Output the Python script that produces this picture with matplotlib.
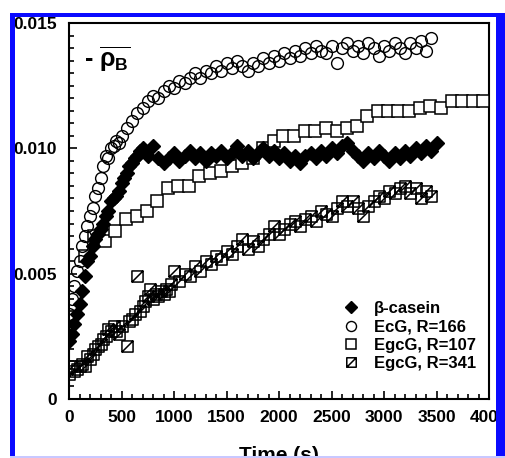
import matplotlib
matplotlib.use("Agg")
import matplotlib.pyplot as plt
from matplotlib.path import Path
from matplotlib.patches import Rectangle
from matplotlib.ticker import MultipleLocator, FixedFormatter, FixedLocator

plt.rcParams['font.family'] = ['Liberation Sans', 'DejaVu Sans']
plt.rcParams['mathtext.fontset'] = 'custom'
plt.rcParams['mathtext.rm'] = 'Liberation Sans:bold'
plt.rcParams['mathtext.it'] = 'Liberation Sans:bold'
plt.rcParams['mathtext.bf'] = 'Liberation Sans:bold'

# beta-casein (filled diamonds)
beta_t = [0, 25, 50, 75, 100, 125, 150, 175, 200, 225, 250, 275, 300, 325, 350,
          375, 400, 425, 450, 475, 500, 525, 550, 575, 600, 625, 650, 675, 700,
          750, 800, 850, 900, 950, 1000, 1050, 1100, 1150, 1200, 1250, 1300, 1350,
          1400, 1450, 1500, 1550, 1600, 1650, 1700, 1750, 1800, 1850, 1900, 1950,
          2000, 2050, 2100, 2150, 2200, 2250, 2300, 2350, 2400, 2450, 2500, 2550,
          2600, 2650, 2700, 2750, 2800, 2850, 2900, 2950, 3000, 3050, 3100, 3150,
          3200, 3250, 3300, 3350, 3400, 3450, 3500]
beta_v = [0.0023, 0.0026, 0.0030, 0.0034, 0.0038, 0.0043, 0.0049, 0.0055, 0.0057,
          0.0061, 0.0064, 0.0066, 0.0068, 0.0070, 0.0073, 0.0075, 0.0079, 0.0080,
          0.0081, 0.0083, 0.0086, 0.0088, 0.0090, 0.0093, 0.0094, 0.0096, 0.0097,
          0.0099, 0.0100,
          0.0097, 0.0101, 0.0096, 0.0094, 0.0096, 0.0098, 0.0095, 0.0097, 0.0099,
          0.0096, 0.0098, 0.0095, 0.0098, 0.0097, 0.0099, 0.0096, 0.0098, 0.0101,
          0.0097, 0.0099, 0.0096, 0.0098, 0.0100, 0.0097, 0.0099, 0.0096, 0.0098,
          0.0095, 0.0097, 0.0094, 0.0097, 0.0098, 0.0096, 0.0099, 0.0097, 0.0100,
          0.0098, 0.0101, 0.0102, 0.0099, 0.0097, 0.0095, 0.0098, 0.0096, 0.0099,
          0.0097, 0.0095, 0.0098, 0.0096, 0.0099, 0.0097, 0.0100, 0.0098, 0.0101,
          0.0099, 0.0102]

# EcG, R=166 (open circles)
ecg_t = [0, 25, 50, 75, 100, 125, 150, 175, 200, 225, 250, 275, 300, 325, 350,
         375, 400, 425, 450, 475, 500, 550, 600, 650, 700, 750, 800, 850, 900, 950,
         1000, 1050, 1100, 1150, 1200, 1250, 1300, 1350, 1400, 1450, 1500, 1550,
         1600, 1650, 1700, 1750, 1800, 1850, 1900, 1950, 2000, 2050, 2100, 2150,
         2200, 2250, 2300, 2350, 2400, 2450, 2500, 2550, 2600, 2650, 2700, 2750,
         2800, 2850, 2900, 2950, 3000, 3050, 3100, 3150, 3200, 3250, 3300, 3350,
         3400, 3450]
ecg_v = [0.0034, 0.0040, 0.0045, 0.0051, 0.0055, 0.0061, 0.0065, 0.0069, 0.0073,
         0.0076, 0.0081, 0.0084, 0.0088, 0.0093, 0.0097, 0.0096, 0.0100, 0.0101,
         0.0103, 0.0102, 0.0105, 0.0108, 0.0111, 0.0114, 0.0116, 0.0119, 0.0121,
         0.0120, 0.0123, 0.0125, 0.0124, 0.0127, 0.0126, 0.0128, 0.0130, 0.0128,
         0.0131, 0.0130, 0.0133, 0.0131, 0.0134, 0.0132, 0.0135, 0.0133, 0.0131,
         0.0134, 0.0133, 0.0136, 0.0134, 0.0137, 0.0135, 0.0138, 0.0136, 0.0139,
         0.0137, 0.0140, 0.0138, 0.0141, 0.0139, 0.0138, 0.0141, 0.0134, 0.0140,
         0.0142, 0.0139, 0.0141, 0.0138, 0.0142, 0.0140, 0.0137, 0.0141, 0.0139,
         0.0142, 0.0140, 0.0138, 0.0142, 0.0140, 0.0143, 0.0139, 0.0144]

# EgcG, R=107 (open squares)
e107_t = [150, 240, 340, 440, 540, 645, 745, 840, 940, 1040, 1140, 1240, 1345,
          1445, 1550, 1645, 1750, 1850, 1950, 2040, 2140, 2245, 2345, 2445, 2550,
          2645, 2740, 2835, 2945, 3040, 3135, 3240, 3345, 3440, 3540, 3645, 3740,
          3845, 3945]
e107_v = [0.0057, 0.0065, 0.0063, 0.0067, 0.0072, 0.0073, 0.0075, 0.0079, 0.0084,
          0.0085, 0.0085, 0.0089, 0.0090, 0.0091, 0.0093, 0.0094, 0.0096, 0.0100,
          0.0103, 0.0105, 0.0105, 0.0107, 0.0107, 0.0108, 0.0107, 0.0108, 0.0109,
          0.0113, 0.0115, 0.0115, 0.0115, 0.0115, 0.0116, 0.0117, 0.0116, 0.0119,
          0.0119, 0.0119, 0.0119]

# EgcG, R=341 (squares with diagonal)
e341_t = [0, 25, 50, 75, 100, 125, 150, 175, 200, 225, 250, 275, 300, 325, 350,
          375, 400, 425, 450, 475, 500, 550, 575, 600, 625, 650, 675, 700, 725,
          750, 775, 800, 825, 850, 875, 900, 925, 950, 975, 1000, 1050, 1100,
          1150, 1200, 1250, 1300, 1350, 1400, 1450, 1500, 1550, 1600, 1650, 1700,
          1750, 1800, 1850, 1900, 1950, 2000, 2050, 2100, 2150, 2200, 2250, 2300,
          2350, 2400, 2450, 2500, 2550, 2600, 2650, 2700, 2750, 2800, 2850, 2900,
          2950, 3000, 3050, 3100, 3150, 3200, 3250, 3300, 3350, 3400, 3450]
e341_v = [0.0010, 0.0013, 0.0011, 0.0012, 0.0013, 0.0014, 0.0013, 0.0017, 0.0016,
          0.0018, 0.0020, 0.0021, 0.0022, 0.0024, 0.0025, 0.0028, 0.0027, 0.0029,
          0.0027, 0.0026, 0.0029, 0.0021, 0.0031, 0.0032, 0.0034, 0.0049, 0.0035,
          0.0037, 0.0039, 0.0041, 0.0044, 0.0040, 0.0042, 0.0041, 0.0043, 0.0042,
          0.0044, 0.0043, 0.0046, 0.0051, 0.0047, 0.0050, 0.0049, 0.0053, 0.0051,
          0.0055, 0.0054, 0.0057, 0.0056, 0.0059, 0.0058, 0.0061, 0.0064, 0.0060,
          0.0063, 0.0061, 0.0064, 0.0066, 0.0069, 0.0066, 0.0068, 0.0070, 0.0071,
          0.0069, 0.0072, 0.0073, 0.0071, 0.0075, 0.0074, 0.0073, 0.0076, 0.0079,
          0.0077, 0.0079, 0.0076, 0.0073, 0.0077, 0.0079, 0.0081, 0.0080, 0.0083,
          0.0082, 0.0084, 0.0085, 0.0082, 0.0084, 0.0080, 0.0083, 0.0081]

labels = ['\u03b2-casein', 'EcG, R=166', 'EgcG, R=107', 'EgcG, R=341']
ytick_vals = [0, 0.005, 0.010, 0.015]
ytick_labels = ['0', '0.005', '0.010', '0.015']

W, H = 505, 458
fig = plt.figure(figsize=(W / 100, H / 100), dpi=100)
ax = fig.add_axes([69 / W, 1 - 399 / H, 420 / W, 376 / H])

# square with a diagonal from lower left to upper right
hatch_sq = Path([(-0.5, -0.5), (0.5, -0.5), (0.5, 0.5), (-0.5, 0.5), (-0.5, -0.5),
                 (-0.5, -0.5), (0.5, 0.5)],
                [Path.MOVETO, Path.LINETO, Path.LINETO, Path.LINETO, Path.CLOSEPOLY,
                 Path.MOVETO, Path.LINETO])

ax.plot(e341_t, e341_v, ls='none', marker=hatch_sq, ms=8, mfc='none', mec='black',
        mew=1.1, label=labels[3], zorder=2)
ax.plot(e107_t, e107_v, ls='none', marker='s', ms=8, mfc='white', mec='black',
        mew=1.1, label=labels[2], zorder=3)
ax.plot(ecg_t, ecg_v, ls='none', marker='o', ms=8.5, mfc='none', mec='black',
        mew=1.0, label=labels[1], zorder=4)
ax.plot(beta_t, beta_v, ls='none', marker='D', ms=7.5, mfc='black', mec='black',
        label=labels[0], zorder=5)

ax.set_xlim(0, 4000)
ax.set_ylim(0, 0.015)
ax.xaxis.set_major_locator(MultipleLocator(500))
ax.xaxis.set_minor_locator(MultipleLocator(100))
ax.yaxis.set_major_locator(FixedLocator(ytick_vals))
ax.yaxis.set_major_formatter(FixedFormatter(ytick_labels))
ax.yaxis.set_minor_locator(MultipleLocator(0.0005))
ax.tick_params(which='both', direction='in', top=False, right=False, width=1.2)
ax.tick_params(which='major', length=6, pad=8, labelsize=12.5)
ax.tick_params(axis='y', which='major', pad=9)
ax.tick_params(which='minor', length=3.5)
for lab in ax.get_xticklabels() + ax.get_yticklabels():
    lab.set_fontweight('bold')
for s in ax.spines.values():
    s.set_linewidth(1.5)

ax.set_xlabel('Time (s)', fontsize=15, fontweight='bold', va='top')
ax.xaxis.set_label_coords(0.5, -0.125)

ax.text(0.035, 0.905, r'- $\overline{\rho_{\mathbf{B}}}$', transform=ax.transAxes,
        fontsize=18, fontweight='bold', va='center', ha='left')

h, l = ax.get_legend_handles_labels()
order = [3, 2, 1, 0]
leg = ax.legend([h[i] for i in order], [l[i] for i in order], loc='upper left',
                bbox_to_anchor=((341 - 69) / 420, (399 - 301) / 376), frameon=False,
                handlelength=1.2, handletextpad=0.75, labelspacing=0.2,
                borderpad=0, borderaxespad=0, prop={'size': 12, 'weight': 'bold'},
                markerscale=0.85)

# blue frame of the cropped figure
def px_rect(x0, y0, w, h, color):
    r = Rectangle((x0 / W, 1 - (y0 + h) / H), w / W, h / H, transform=fig.transFigure,
                  facecolor=color, edgecolor='none', zorder=20)
    fig.add_artist(r)

px_rect(0, 0, 10, H, 'white')
px_rect(0, 0, W, 13, 'white')
px_rect(10, 13, 5, H - 13, '#0a0aff')
px_rect(10, 13, W - 10, 4, '#0a0aff')
px_rect(496, 13, 9, H - 13, '#0a0aff')
px_rect(10, 456, W - 10, 2, '#c8c8ff')

fig.savefig('out.png', dpi=100)
